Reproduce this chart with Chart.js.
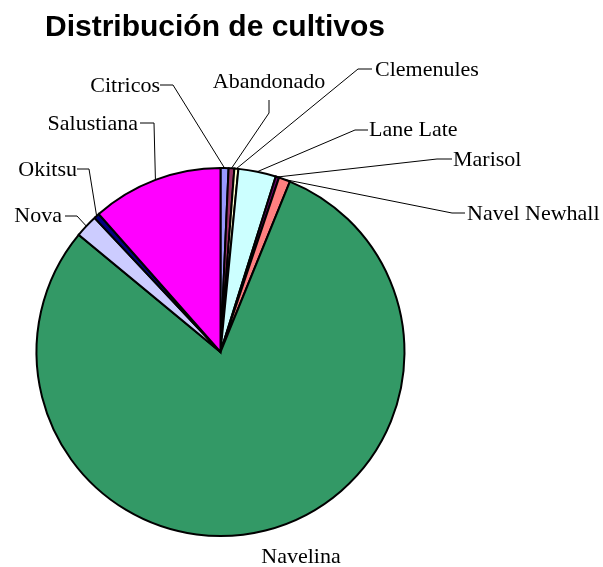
<!DOCTYPE html>
<html>
<head>
<meta charset="utf-8">
<script src="https://cdn.jsdelivr.net/npm/chart.js@4.4.1/dist/chart.umd.min.js"></script>
</head>
<body style="margin:0">
<canvas id="pieChart" width="603" height="567"></canvas>
<script>
// cultivos, in drawing order (clockwise from 12 o'clock)
var cultivos = [
  "Citricos",
  "Abandonado",
  "Clemenules",
  "Lane Late",
  "Marisol",
  "Navel Newhall",
  "Navelina",
  "Nova",
  "Okitsu",
  "Salustiana",
];
var superficie = [0.7, 0.5, 0.35, 3.3, 0.3, 1.0, 79.8, 2.0, 0.5, 11.5];
var colores = [
  "#9999ff",
  "#993366",
  "#ffffcc",
  "#ccffff",
  "#660066",
  "#ff8080",
  "#339966",
  "#ccccff",
  "#000080",
  "#ff00ff",
];

// where each label text sits and where its leader line bends
var etiquetas = [
  { x: 160, y: 92, align: "right", stub: [160, 85, 173, 85] },
  { x: 269, y: 88, align: "center", stub: [269, 100, 269, 113] },
  { x: 375, y: 76, align: "left", stub: [372, 69, 358, 69] },
  { x: 369, y: 136, align: "left", stub: [368, 130, 355, 130] },
  { x: 453, y: 166, align: "left", stub: [452, 159, 437, 159] },
  { x: 467, y: 220, align: "left", stub: [465, 213, 452, 213] },
  { x: 301, y: 563, align: "center", stub: null },
  { x: 62, y: 222, align: "right", stub: [65, 216, 77, 216] },
  { x: 77, y: 176, align: "right", stub: [77, 169, 89, 169] },
  { x: 138, y: 130, align: "right", stub: [140, 123, 154, 123] },
];

var labelsPlugin = {
  id: "pieLabels",
  afterDraw: function (chart) {
    var c = chart.ctx;
    var arcs = chart.getDatasetMeta(0).data;
    c.save();
    c.fillStyle = "#000";
    c.strokeStyle = "#000";
    c.lineWidth = 1;
    c.textBaseline = "alphabetic";

    for (var i = 0; i < arcs.length; i++) {
      var arc = arcs[i];
      var e = etiquetas[i];
      if (e.stub) {
        var mid = (arc.startAngle + arc.endAngle) / 2;
        var px = arc.x + Math.cos(mid) * arc.outerRadius;
        var py = arc.y + Math.sin(mid) * arc.outerRadius;
        c.beginPath();
        c.moveTo(e.stub[0], e.stub[1]);
        c.lineTo(e.stub[2], e.stub[3]);
        c.lineTo(px, py);
        c.stroke();
      }
      c.font = '22px "Liberation Serif", serif';
      c.textAlign = e.align;
      c.fillText(cultivos[i], e.x, e.y);
    }

    // title
    c.font = 'bold 30px "Liberation Sans", sans-serif';
    c.textAlign = "left";
    c.fillText("Distribución de cultivos", 45, 36);
    c.restore();
  },
};

new Chart(document.getElementById("pieChart"), {
  type: "pie",
  data: {
    labels: cultivos,
    datasets: [
      {
        data: superficie,
        backgroundColor: colores,
        borderColor: "#000",
        borderWidth: 2,
        borderJoinStyle: "miter",
      },
    ],
  },
  options: {
    responsive: false,
    animation: false,
    layout: {
      padding: { left: 35, right: 197, top: 167, bottom: 30 },
    },
    plugins: {
      legend: { display: false },
      tooltip: { enabled: false },
    },
  },
  plugins: [labelsPlugin],
});
</script>
</body>
</html>
